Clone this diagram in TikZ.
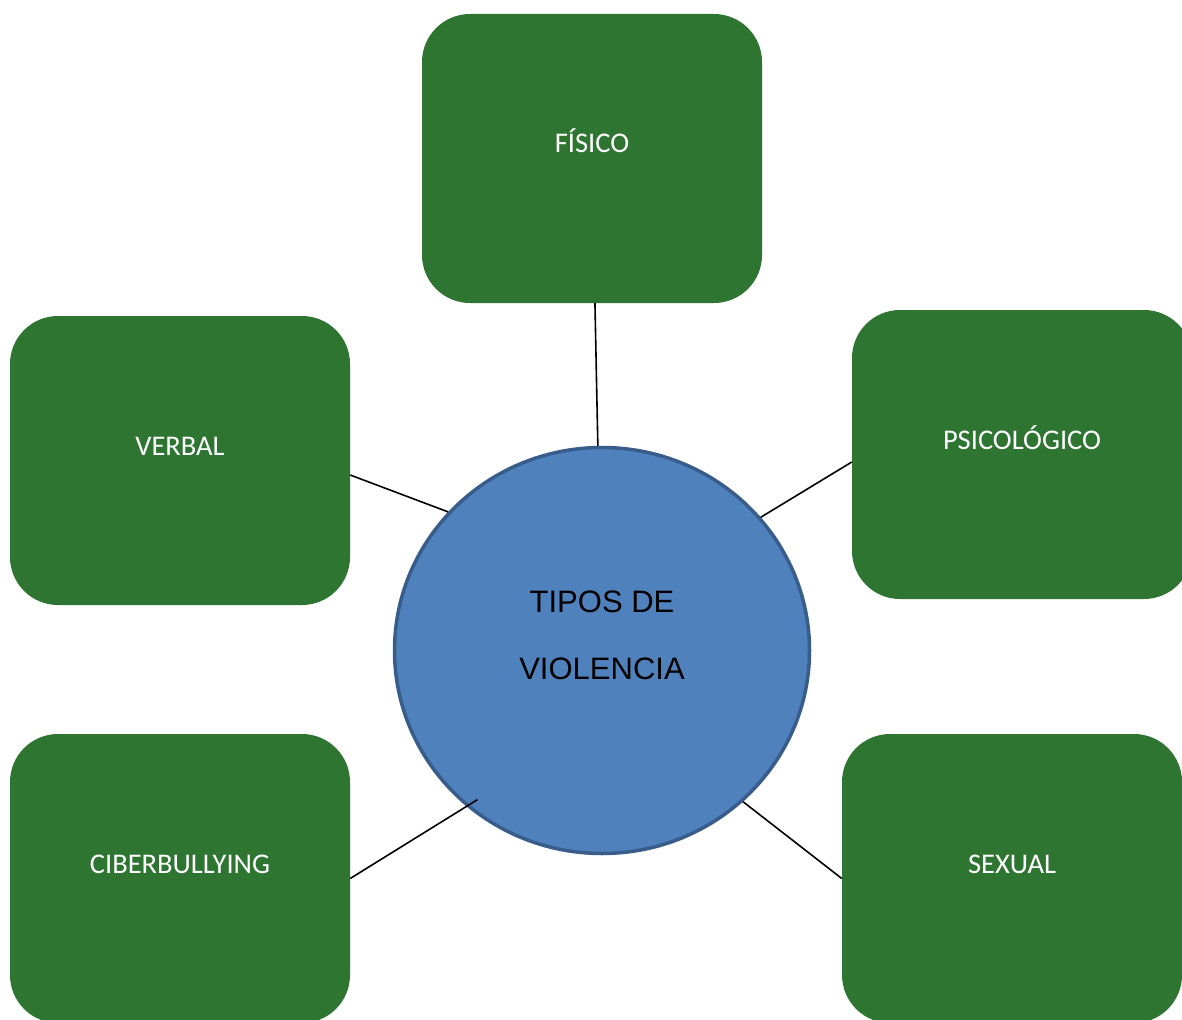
\documentclass[tikz,border=0pt]{standalone}
\usepackage{fontspec}
\usepackage{tikz}
\usetikzlibrary{shapes.geometric}
\setmainfont{Carlito}
\newfontfamily\arialfont{Liberation Sans}
\definecolor{boxgreen}{RGB}{46,117,50}
\definecolor{circblue}{RGB}{79,129,189}
\definecolor{circedge}{RGB}{56,93,138}

\begin{document}
\begin{tikzpicture}[x=1pt,y=-1pt,
  tipo/.style={fill=boxgreen, rounded corners=48pt, minimum width=340pt, minimum height=289pt, inner sep=0pt, text=white, font=\fontsize{28.5}{34}\selectfont, text height=20pt, text depth=31pt},
  centro/.style={ellipse, draw=circedge, line width=3.5pt, fill=circblue, minimum width=415pt, minimum height=406pt, inner sep=0pt, align=center, font=\arialfont\fontsize{31}{67}\selectfont, text height=89pt, text depth=32pt},
  enlace/.style={line width=1.6pt}]
  \fill[white] (0,0) rectangle (1182,1019);
  \clip (0,0) rectangle (1182,1019);
  \node[tipo] (fisico) at (592,158.5) {FÍSICO};
  \node[tipo] (verbal) at (180,460.5) {VERBAL};
  \node[tipo] (psico) at (1022,454.5) {PSICOLÓGICO};
  \node[tipo] (ciber) at (180,878.5) {CIBERBULLYING};
  \node[tipo] (sexual) at (1012,878.5) {SEXUAL};
  \node[centro] (tipos) at (602,650.5) {TIPOS DE\\VIOLENCIA};
  \draw[enlace] (fisico) -- (tipos);
  \draw[enlace] ([yshift=-14.5pt]verbal.east) -- (tipos.138.9);
  \draw[enlace] ([yshift=-7.5pt]psico.west) -- (tipos.40.2);
  \draw[enlace, shorten >=-13pt] (ciber.east) -- (tipos.229.6);
  \draw[enlace] (sexual.west) -- (tipos.313.2);
\end{tikzpicture}
\end{document}
